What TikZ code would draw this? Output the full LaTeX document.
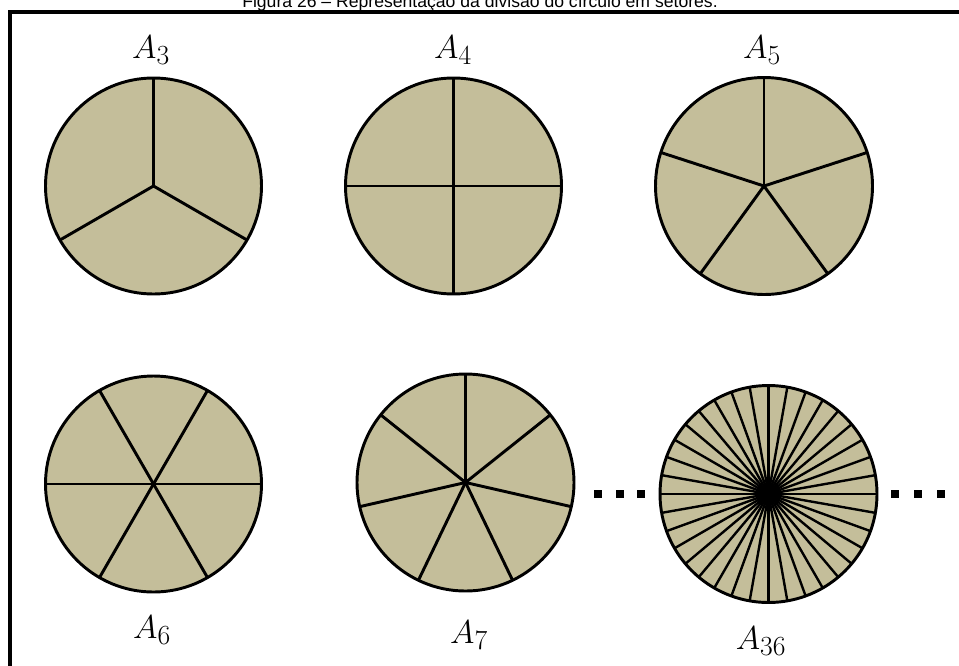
\documentclass[tikz,border=0pt]{standalone}
\usepackage{fontspec}
\newfontfamily\capfont{Liberation Sans}
\definecolor{sand}{RGB}{196,190,154}
\begin{document}
\begin{tikzpicture}[x=0.75pt,y=-0.75pt,
  disc/.style={fill=sand},
  rim/.style={draw=black,line width=2.2pt},
  spoke/.style={draw=black,line width=2.2pt},
  finespoke/.style={draw=black,line width=1.8pt},
  lbl/.style={inner sep=0pt,font=\fontsize{28}{32}\selectfont},
  dotsq/.style={fill=black,minimum size=6pt,inner sep=0pt,draw=none}]
\useasboundingbox (0,0) rectangle (959,665);
\clip (0,0) rectangle (959,665);
% caption (cut at the top edge, as in the reference)
\node[anchor=base,inner sep=0pt,font=\capfont\fontsize{13.2}{15}\selectfont] (cap) at (480,7.5)
  {Figura 26 – Representação da divisão do círculo em setores.};
% frame
\draw[line width=3pt] (965,11.5) -- (9.5,11.5) -- (9.5,670);
% A3
\fill[disc] (153.5,186) circle (108);
\foreach \a in {90,210,330} \draw[spoke] (153.5,186) -- ++(-\a:108);
\draw[rim] (153.5,186) circle (108);
% A4
\fill[disc] (453.5,186) circle (108);
\foreach \a in {0,90,180,270} \draw[spoke] (453.5,186) -- ++(-\a:108);
\draw[rim] (453.5,186) circle (108);
% A5
\fill[disc] (764,186) circle (108.5);
\foreach \a in {90,162,234,306,18} \draw[spoke] (764,186) -- ++(-\a:108.5);
\draw[rim] (764,186) circle (108.5);
% A6
\fill[disc] (153.5,484) circle (108);
\foreach \a in {0,60,...,300} \draw[spoke] (153.5,484) -- ++(-\a:108);
\draw[rim] (153.5,484) circle (108);
% A7
\fill[disc] (465.5,482.5) circle (108.5);
\foreach \k in {0,...,6} \draw[spoke] (465.5,482.5) -- ++(-90-\k*360/7:108.5);
\draw[rim] (465.5,482.5) circle (108.5);
% A36
\fill[disc] (768.5,494) circle (108.5);
\foreach \a in {0,10,...,350} \draw[finespoke] (768.5,494) -- ++(-\a:108.5);
\draw[rim] (768.5,494) circle (108.5);
% labels
\node[lbl] (l3) at (151,50) {$A_3$};
\node[lbl] (l4) at (453,50) {$A_4$};
\node[lbl] (l5) at (762,50) {$A_5$};
\node[lbl] (l6) at (152,630) {$A_6$};
\node[lbl] (l7) at (469,635) {$A_7$};
\node[lbl] (l36) at (761,641) {$A_{36}$};
% dots
\node[dotsq] (d1) at (598,494) {};
\node[dotsq] (d2) at (619.5,494) {};
\node[dotsq] (d3) at (641,494) {};
\node[dotsq] (d4) at (895,494) {};
\node[dotsq] (d5) at (918,494) {};
\node[dotsq] (d6) at (941,494) {};
\end{tikzpicture}
\end{document}
